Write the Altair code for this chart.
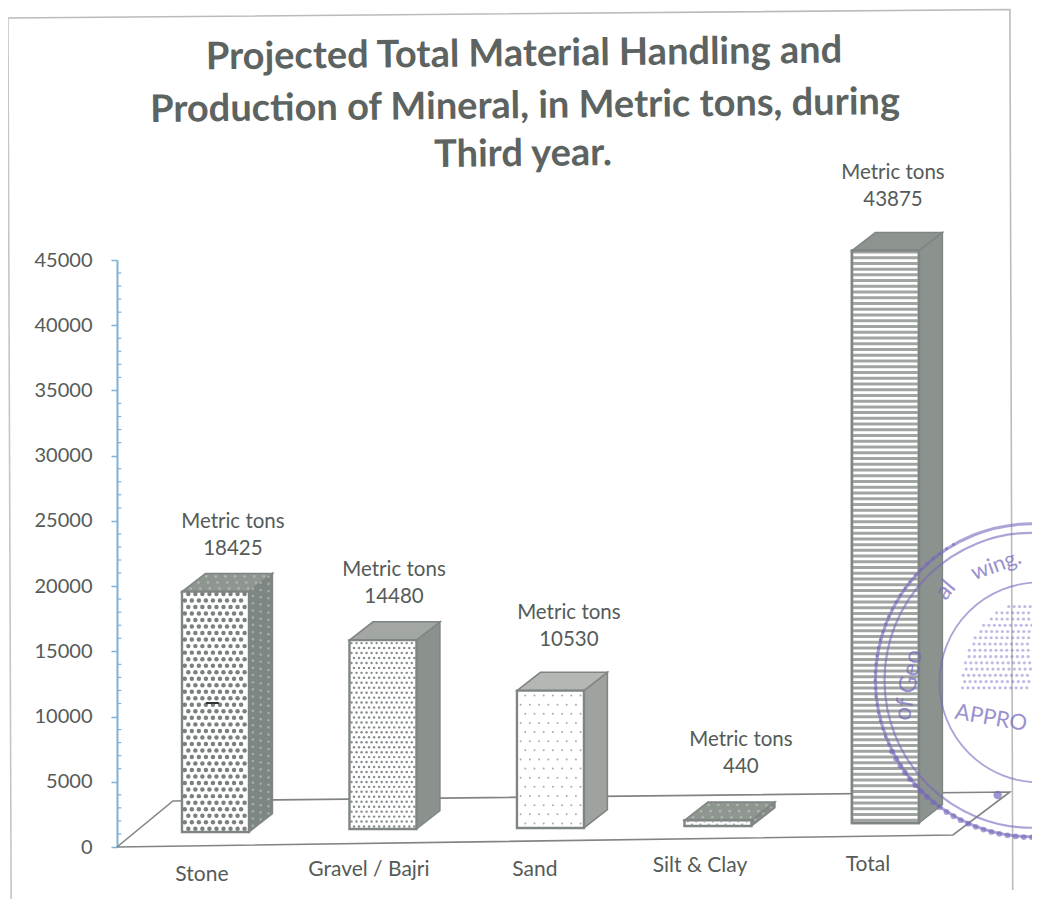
import math
import altair as alt
import pandas as pd

categories = ["Stone", "Gravel / Bajri", "Sand", "Silt & Clay", "Total"]
values = [18425, 14480, 10530, 440, 43875]
bases = [1150, 1380, 1460, 1610, 1840]
y_ticks = [0, 5000, 10000, 15000, 20000, 25000, 30000, 35000, 40000, 45000]
value_label_x = [0.304, 1.266, 2.31, 3.337, 4.245]
value_label_y = [22845, 19165, 15870, 6133, 49600]
cat_label_x = [0.119, 1.116, 2.107, 3.093, 4.095]
cat_label_y = [-2150, -1760, -1760, -1460, -1380]
side_fill = ["#7d8682", "#8b918d", "#9fa3a0", "#868c88", "#8c928d"]
top_fill = ["#8f9690", "#a3a7a4", "#b4b7b4", "#8f958f", "#8d938e"]
title_lines = ["Projected Total Material Handling and",
               "Production of Mineral, in Metric tons, during",
               "Third year."]
title_x = [2.042, 2.048, 2.036]
title_y = [60718, 56730, 53050]

BW, DX, DY = 0.4, 0.14, 1400
INK, FRAME, BLUE, PURPLE = "#555b58", "#7f8582", "#7fb2d8", "#7468bd"
FONT = "Lato"
xs = alt.Scale(domain=[-0.388, 5.075], nice=False, zero=False)
ys = alt.Scale(domain=[0, 45000], nice=False, zero=False)
Xn = alt.X("x:Q", scale=xs, axis=None)
Yn = alt.Y("y:Q", scale=ys, axis=alt.Axis(values=y_ticks, title=None, grid=False, format="d",
           domainColor=BLUE, domainWidth=2, tickColor=BLUE, tickSize=6, tickWidth=1.5,
           labelColor=INK, labelFont=FONT, labelFontSize=20, labelPadding=19))

front, faces = [], []
dots, stripes = [], []
for i, (c, v, b) in enumerate(zip(categories, values, bases)):
    t = b + v
    front.append(dict(x=i, x2=i + BW, y=t, y2=b))
    faces.append((side_fill[i], [dict(x=i + BW, y=t, y2=b), dict(x=i + BW + DX, y=t + DY, y2=b + DY)]))
    faces.append((top_fill[i], [dict(x=i, y=t, y2=t), dict(x=i + DX, y=t + DY, y2=t),
                                dict(x=i + BW, y=t + DY, y2=t), dict(x=i + BW + DX, y=t + DY, y2=t + DY)]))
    if c == "Total":
        yy = b + 220
        while yy < t:
            stripes.append(dict(x=i, x2=i + BW, y=yy))
            yy += 440
    else:
        spec = {"Stone": (0.042, 500, 20, "#7a807d"),
                "Gravel / Bajri": (0.03, 380, 6, "#868c8f"),
                "Sand": (0.055, 700, 4, "#a8acaa"),
                "Silt & Clay": (0.05, 230, 5, "#9ea3a0")}[c]
        sx, sy, size, col = spec
        row, yy = 0, b + sy / 2
        while yy < t - sy / 4:
            xx = i + sx * (0.4 if row % 2 else 0.9)
            while xx < i + BW - sx / 4:
                dots.append(dict(x=xx, y=yy, s=size, col=col))
                xx += sx
            yy += sy
            row += 1
        # texture on the darker side and top faces
        if c in ("Stone", "Silt & Clay"):
            for k in range(3):
                f = (k + 0.5) / 3
                yy = b + DY * f + 250
                while yy < t + DY * f:
                    dots.append(dict(x=i + BW + DX * f, y=yy, s=7, col="#a5aba7"))
                    yy += 550
            for k in range(7):
                f = (k + 0.5) / 7
                for j in range(3):
                    g = (j + 0.5) / 3
                    dots.append(dict(x=i + DX * g + BW * f, y=t + DY * g, s=7, col="#b0b5b1"))

lab = []
for lx, ly, v in zip(value_label_x, value_label_y, values):
    lab.append(dict(x=lx, y=ly, t=str(v)))
    lab.append(dict(x=lx, y=ly + 2100, t="Metric tons"))
cat_lab = [dict(x=a, y=b, t=c) for a, b, c in zip(cat_label_x, cat_label_y, categories)]
title_rows = [dict(x=a, y=b, t=c) for a, b, c in zip(title_x, title_y, title_lines)]

floor = [dict(x=-0.388, y=0), dict(x=-0.054, y=3530), dict(x=4.943, y=4220),
         dict(x=4.603, y=920), dict(x=-0.388, y=0)]
border = [dict(x=-1.039, y=63550), dict(x=4.943, y=64200), dict(x=4.96, y=-3300)]
border2 = [dict(x=-1.039, y=63550), dict(x=-1.02, y=-4000)]
for seq in (floor, border, border2):
    for n, p in enumerate(seq):
        p["o"] = n

minor = [dict(y=v, x=-0.388, x2=-0.362) for v in range(1000, 45000, 1000) if v % 5000]


def line(rows, color, w=1.6):
    return alt.Chart(pd.DataFrame(rows)).mark_line(color=color, strokeWidth=w).encode(
        x=Xn, y=Yn, order="o:Q")


minor_l = alt.Chart(pd.DataFrame(minor)).mark_rule(color=BLUE, strokeWidth=1.2).encode(
    x=Xn, x2="x2:Q", y=Yn)
face_layers = [
    alt.Chart(pd.DataFrame(rows)).mark_area(fill=col, stroke=FRAME, strokeWidth=1.5, orient="vertical",
                                            interpolate="linear").encode(x=Xn, y=Yn, y2="y2:Q")
    for col, rows in faces
]
front_l = alt.Chart(pd.DataFrame(front)).mark_rect(fill="white", stroke=FRAME, strokeWidth=2.4).encode(
    x=Xn, x2="x2:Q", y=Yn, y2="y2:Q")
dots_l = alt.Chart(pd.DataFrame(dots)).mark_point(filled=True, opacity=1, shape="circle").encode(
    x=Xn, y=Yn, size=alt.Size("s:Q", scale=None, legend=None), color=alt.Color("col:N", scale=None))
stripes_l = alt.Chart(pd.DataFrame(stripes)).mark_rule(color="#a0a5a2", strokeWidth=3).encode(
    x=Xn, x2="x2:Q", y=Yn)
frame_total = alt.Chart(pd.DataFrame(front[-1:])).mark_rect(fillOpacity=0, stroke=FRAME, strokeWidth=2.4).encode(
    x=Xn, x2="x2:Q", y=Yn, y2="y2:Q")
smudge = alt.Chart(pd.DataFrame([dict(x=0.143, x2=0.22, y=11040)])).mark_rule(color="#333333", strokeWidth=2).encode(
    x=Xn, x2="x2:Q", y=Yn)
text_l = alt.Chart(pd.DataFrame(lab)).mark_text(font=FONT, fontSize=20.5, color=INK).encode(x=Xn, y=Yn, text="t:N")
cat_l = alt.Chart(pd.DataFrame(cat_lab)).mark_text(font=FONT, fontSize=21, color=INK).encode(x=Xn, y=Yn, text="t:N")
title_l = alt.Chart(pd.DataFrame(title_rows)).mark_text(
    font=FONT, fontSize=38, fontWeight="bold", color="#5c6361", angle=359.4).encode(x=Xn, y=Yn, text="t:N")

# approval stamp
rings = pd.DataFrame([dict(x=5.075, y=12780, s=98000, w=3), dict(x=5.075, y=12780, s=87000, w=2.2),
                      dict(x=5.12, y=12620, s=40000, w=1.8)])
rings_l = alt.Chart(rings).mark_point(shape="circle", filled=False, color=PURPLE, opacity=0.6).encode(
    x=Xn, y=Yn, size=alt.Size("s:Q", scale=None, legend=None),
    strokeWidth=alt.StrokeWidth("w:Q", scale=None, legend=None))
scallop = []
for deg in range(120, 300, 3):
    a = math.radians(deg)
    scallop.append(dict(x=5.075 + 157 * math.cos(a) / 167.5,
                        y=12780 + 157 * math.sin(a) / 0.013044,
                        s=34 if deg > 205 else 10))
scallop_l = alt.Chart(pd.DataFrame(scallop)).mark_point(shape="circle", filled=True, color=PURPLE, opacity=0.6).encode(
    x=Xn, y=Yn, size=alt.Size("s:Q", scale=None, legend=None))
emblem = []
for r in range(14):
    yy = 12200 + r * 480
    half = 0.42 * (1 - (r / 14) ** 2) ** 0.5
    xx = 5.08 - half + (0.012 if r % 2 else 0)
    while xx < 5.075:
        emblem.append(dict(x=xx, y=yy))
        xx += 0.032
emblem_l = alt.Chart(pd.DataFrame(emblem)).mark_point(
    shape="circle", filled=True, color=PURPLE, opacity=0.45, size=10).encode(x=Xn, y=Yn)
knob = alt.Chart(pd.DataFrame([dict(x=4.87, y=3990)])).mark_point(
    shape="circle", filled=True, color=PURPLE, opacity=0.7, size=70).encode(x=Xn, y=Yn)
stamp_rows = [("APPRO", 4.83, 9890, 10, 22), ("wing.", 4.86, 21620, 340, 22), ("al", 4.56, 19700, 310, 24),
              ("of Geo", 4.34, 12400, 280, 24)]
stamp_l = [
    alt.Chart(pd.DataFrame([dict(x=r[1], y=r[2], t=r[0])])).mark_text(
        font=FONT, fontSize=r[4], angle=r[3], color=PURPLE, opacity=0.72).encode(x=Xn, y=Yn, text="t:N")
    for r in stamp_rows]

chart = alt.layer(
    line(border, "#b9bcba"), line(border2, "#c4c6c4"), line(floor, "#808583"), minor_l,
    *face_layers, front_l, dots_l, stripes_l, frame_total, smudge, title_l, text_l, cat_l,
    rings_l, scallop_l, emblem_l, knob, *stamp_l,
).resolve_scale(size="independent", color="independent", strokeWidth="independent").properties(
    width=915, height=587, background="white",
    padding={"left": 109, "top": 252, "right": 0, "bottom": 52},
    autosize=alt.AutoSizeParams(type="none"),
).configure_view(stroke=None)

chart.save("out.html", embed_options={"renderer": "svg", "actions": False})
